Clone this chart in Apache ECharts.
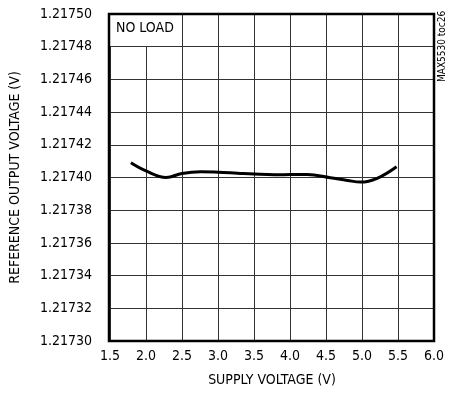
<!DOCTYPE html>
<html>
<head>
<meta charset="utf-8">
<script src="https://cdn.jsdelivr.net/npm/echarts@6/dist/echarts.min.js"></script>
<style>
  html, body { margin: 0; padding: 0; background: #fff; }
  #chart { width: 455px; height: 399px; }
</style>
</head>
<body>
<div id="chart"></div>
<script>
// supply voltage (V) and reference output voltage (V)
const supplyVoltage = [1.79, 2.0, 2.28, 2.5, 2.76, 3.0, 3.27, 3.5, 3.78, 4.0, 4.24, 4.56, 4.8, 4.98, 5.21, 5.48];
const refVoltage = [1.217409, 1.217404, 1.2174, 1.2174025, 1.2174035, 1.2174032, 1.2174026, 1.2174021, 1.2174017, 1.2174018, 1.2174019, 1.2173999, 1.2173982, 1.2173972, 1.2173995, 1.2174066];

const fontFamily = '"Liberation Sans Narrow", "Arial Narrow", "DejaVu Sans Condensed", sans-serif';

const chart = echarts.init(document.getElementById('chart'));

chart.setOption({
  animation: false,
  grid: { left: 109, right: 21, top: 14, bottom: 58 },
  xAxis: {
    type: 'value',
    min: 1.5,
    max: 6.0,
    interval: 0.5,
    name: 'SUPPLY VOLTAGE (V)',
    nameLocation: 'middle',
    nameGap: 32,
    nameTextStyle: { fontFamily, fontSize: 14, color: '#000' },
    axisLine: { show: false },
    axisTick: { show: false },
    axisLabel: { fontFamily, fontSize: 14, color: '#000', margin: 8, formatter: v => v.toFixed(1) },
    splitLine: { lineStyle: { color: '#333', width: 1 } }
  },
  yAxis: {
    type: 'value',
    min: 1.2173,
    max: 1.2175,
    interval: 0.00002,
    name: 'REFERENCE OUTPUT VOLTAGE (V)',
    nameLocation: 'middle',
    nameGap: 88,
    nameTextStyle: { fontFamily, fontSize: 14, color: '#000' },
    axisLine: { show: false },
    axisTick: { show: false },
    axisLabel: { fontFamily, fontSize: 14, color: '#000', margin: 18, formatter: v => v.toFixed(5) },
    splitLine: { lineStyle: { color: '#333', width: 1 } }
  },
  graphic: [
    // label box covering the grid in the top-left corner
    { type: 'rect', shape: { x: 110, y: 15, width: 71, height: 31 }, style: { fill: '#fff' }, z: 10 },
    { type: 'text', left: 116, top: 21, style: { text: 'NO LOAD', font: '14px ' + fontFamily, fill: '#000' }, z: 11 },
    // plot frame
    { type: 'rect', shape: { x: 109, y: 14, width: 325, height: 327 }, style: { fill: 'none', stroke: '#000', lineWidth: 2.5 }, z: 12 },
    { type: 'text', x: 437, y: 82, rotation: Math.PI / 2, style: { text: 'MAX5530 toc26', font: '10px ' + fontFamily, fill: '#000' }, z: 11 }
  ],
  series: [{
    type: 'line',
    data: supplyVoltage.map((v, i) => [v, refVoltage[i]]),
    smooth: 0.4,
    symbol: 'none',
    lineStyle: { color: '#000', width: 3 },
    z: 5
  }]
});
</script>
</body>
</html>
